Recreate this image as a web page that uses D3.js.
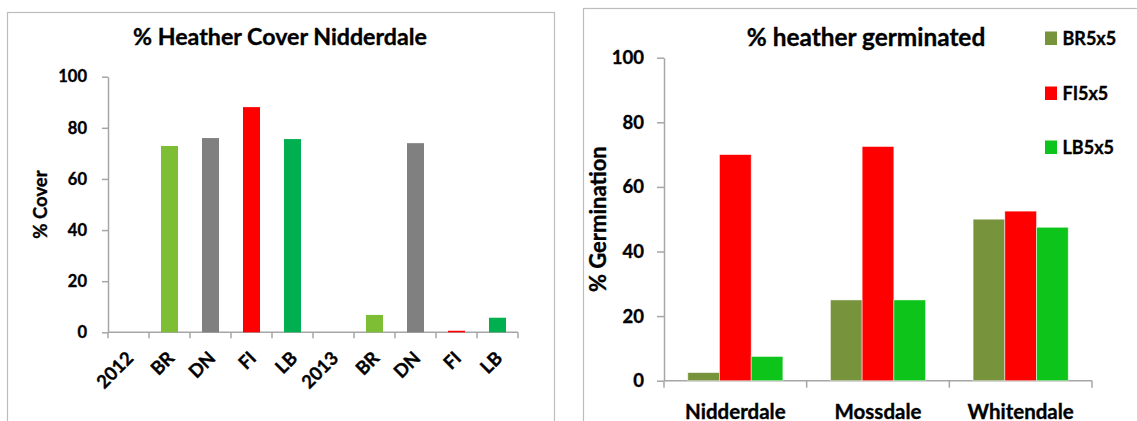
<!DOCTYPE html>
<html>
<head>
<meta charset="utf-8">
<script src="https://cdn.jsdelivr.net/npm/d3@7"></script>
<style>
  html, body { margin: 0; padding: 0; background: #fff; }
  svg { display: block; font-family: Lato, "Open Sans", sans-serif; font-weight: 700; }
  svg text { stroke: #000; stroke-width: 0.35px; }
</style>
</head>
<body>
<svg id="chart" width="1137" height="421"></svg>
<script>
// ---- % Heather Cover Nidderdale ----
const coverLabels = ["2012", "BR", "DN", "FI", "LB", "2013", "BR", "DN", "FI", "LB"];
const coverValues = [null, 72.9, 76, 88.1, 75.6, null, 6.8, 74, 0.6, 5.7];
const coverTicks = [0, 20, 40, 60, 80, 100];
const coverColors = { BR: "#7dbe35", DN: "#808080", FI: "#ff0000", LB: "#00b050" };

// ---- % heather germinated ----
const sites = ["Nidderdale", "Mossdale", "Whitendale"];
const seriesNames = ["BR5x5", "FI5x5", "LB5x5"];
const br5x5 = [2.5, 25, 50];
const fi5x5 = [70, 72.5, 52.5];
const lb5x5 = [7.5, 25, 47.5];
const germTicks = [0, 20, 40, 60, 80, 100];
const germColors = ["#77933c", "#ff0000", "#0cc41a"];

const svg = d3.select("#chart");
const axisColor = "#a6a6a6";
const frameColor = "#bdbdbd";

// Panel frames
svg.append("rect").attr("x", 7.5).attr("y", 12.5).attr("width", 547).attr("height", 430)
  .attr("fill", "none").attr("stroke", frameColor).attr("stroke-width", 1.2);
svg.append("rect").attr("x", 583.5).attr("y", 8.5).attr("width", 600).attr("height", 430)
  .attr("fill", "none").attr("stroke", frameColor).attr("stroke-width", 1.2);

function styleAxis(g) {
  g.selectAll("path, line").attr("stroke", axisColor).attr("stroke-width", 1.5);
  g.select(".domain").attr("stroke", axisColor);
}

// ===== Left chart =====
(function () {
  const left = 108, right = 518, top = 76.7, bottom = 332.3;
  const idx = coverLabels.map((_, i) => i);
  const x = d3.scaleBand().domain(idx).range([left, right]).padding(0);
  const y = d3.scaleLinear().domain([0, 100]).range([bottom, top]);
  const g = svg.append("g");

  g.append("text").attr("x", 280).attr("y", 45).attr("text-anchor", "middle")
    .attr("font-size", 23.2).attr("fill", "#000").text("% Heather Cover Nidderdale");

  // y axis
  const ya = g.append("g").attr("transform", `translate(${left},0)`)
    .call(d3.axisLeft(y).tickValues(coverTicks).tickSize(6).tickSizeOuter(0).tickPadding(15));
  styleAxis(ya);
  ya.selectAll("text").attr("font-size", 16.5).attr("fill", "#000")
    .attr("font-family", "Lato, sans-serif").attr("font-weight", 700);

  // x axis line + boundary ticks
  const xa = g.append("g").attr("transform", `translate(0,${bottom})`)
    .call(d3.axisBottom(x).tickSize(0).tickFormat(""));
  styleAxis(xa);
  xa.select(".domain").attr("d", `M${left},0H${right}`);
  const bounds = d3.range(coverLabels.length + 1).map(i => left + i * x.step());
  xa.selectAll(".bound").data(bounds).join("line").attr("class", "bound")
    .attr("x1", d => d).attr("x2", d => d).attr("y1", 0).attr("y2", 6)
    .attr("stroke", axisColor).attr("stroke-width", 1.5);

  // rotated category labels
  g.selectAll(".xlab").data(idx).join("text").attr("class", "xlab")
    .attr("transform", i => `translate(${x(i) + x.bandwidth() / 2 + 6},${bottom + 27}) rotate(-45)`)
    .attr("text-anchor", "end").attr("font-size", 18.5).attr("fill", "#000")
    .text(i => coverLabels[i]);

  // bars
  const bw = x.bandwidth() * 0.415;
  g.selectAll(".bar").data(idx.filter(i => coverValues[i] != null)).join("rect").attr("class", "bar")
    .attr("x", i => x(i) + (x.bandwidth() - bw) / 2)
    .attr("width", bw)
    .attr("y", i => y(coverValues[i]))
    .attr("height", i => y(0) - y(coverValues[i]))
    .attr("fill", i => coverColors[coverLabels[i]]);

  // y title
  g.append("text").attr("transform", `translate(47,${(top + bottom) / 2}) rotate(-90)`)
    .attr("text-anchor", "middle").attr("font-size", 18.5).attr("fill", "#000").text("% Cover");
})();

// ===== Right chart =====
(function () {
  const left = 664, right = 1092, top = 57.7, bottom = 380.7;
  const x0 = d3.scaleBand().domain(sites).range([left, right]).padding(0);
  const x1 = d3.scaleBand().domain(seriesNames).range([0, x0.bandwidth()])
    .paddingInner(0).paddingOuter(0.75);
  const y = d3.scaleLinear().domain([0, 100]).range([bottom, top]);
  const seriesValues = [br5x5, fi5x5, lb5x5];
  const g = svg.append("g");

  g.append("text").attr("x", 866).attr("y", 46).attr("text-anchor", "middle")
    .attr("font-size", 24.4).attr("fill", "#000").text("% heather germinated");

  const ya = g.append("g").attr("transform", `translate(${left},0)`)
    .call(d3.axisLeft(y).tickValues(germTicks).tickSize(7).tickSizeOuter(0).tickPadding(13));
  styleAxis(ya);
  ya.selectAll("text").attr("font-size", 18.5).attr("fill", "#000")
    .attr("font-family", "Lato, sans-serif").attr("font-weight", 700);

  const xa = g.append("g").attr("transform", `translate(0,${bottom})`)
    .call(d3.axisBottom(x0).tickSize(0).tickFormat(""));
  styleAxis(xa);
  xa.select(".domain").attr("d", `M${left},0H${right}`);
  const bounds = d3.range(sites.length + 1).map(i => left + i * x0.step());
  xa.selectAll(".bound").data(bounds).join("line").attr("class", "bound")
    .attr("x1", d => d).attr("x2", d => d).attr("y1", 0).attr("y2", 7)
    .attr("stroke", axisColor).attr("stroke-width", 1.5);

  g.selectAll(".xlab").data(sites).join("text").attr("class", "xlab")
    .attr("x", d => x0(d) + x0.bandwidth() / 2).attr("y", 418.5)
    .attr("text-anchor", "middle").attr("font-size", 20.5).attr("fill", "#000").text(d => d);

  // grouped bars
  seriesNames.forEach((s, si) => {
    g.selectAll(".bar-" + si).data(sites).join("rect").attr("class", "bar-" + si)
      .attr("x", (d) => x0(d) + x1(s))
      .attr("width", x1.bandwidth())
      .attr("y", (d, i) => y(seriesValues[si][i]))
      .attr("height", (d, i) => y(0) - y(seriesValues[si][i]))
      .attr("fill", germColors[si])
      .attr("stroke", "#ffffff").attr("stroke-opacity", 0.6).attr("stroke-width", 0.8);
  });

  g.append("text").attr("transform", `translate(606,${(top + bottom) / 2}) rotate(-90)`)
    .attr("text-anchor", "middle").attr("font-size", 22).attr("fill", "#000").text("% Germination");

  // legend
  const legendY = [45, 100, 154];
  const lg = g.selectAll(".leg").data(seriesNames).join("g").attr("class", "leg")
    .attr("transform", (d, i) => `translate(1045,${legendY[i]})`);
  lg.append("rect").attr("x", 0).attr("y", -13.5).attr("width", 12).attr("height", 13.5)
    .attr("fill", (d, i) => germColors[i]).attr("stroke", "none");
  lg.append("text").attr("x", 17.5).attr("y", 0).attr("font-size", 18).attr("fill", "#000").text(d => d);
})();
</script>
</body>
</html>
